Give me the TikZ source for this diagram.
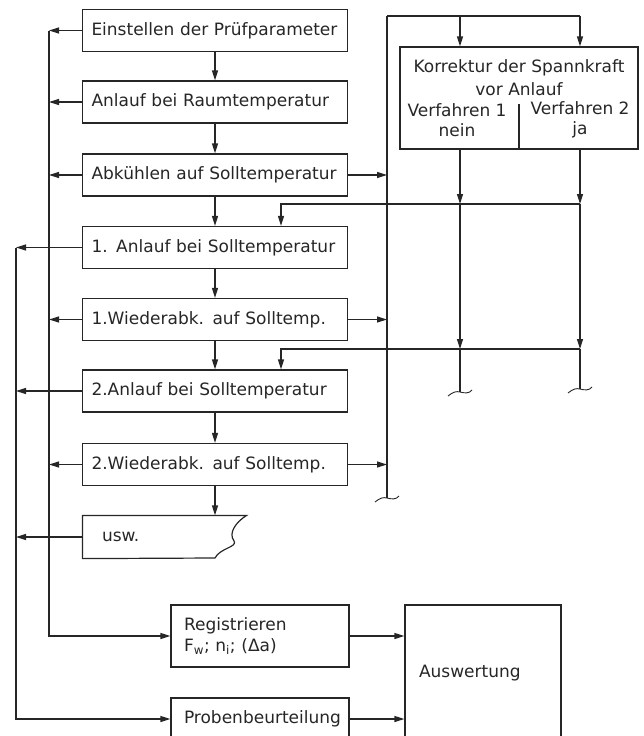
\documentclass[tikz,border=0pt]{standalone}
\usepackage{fontspec}
\setmainfont{DejaVu Sans}
\usetikzlibrary{arrows.meta}

\begin{document}
\begin{tikzpicture}[x=1pt,y=-1pt,line width=1.2pt,color=black!85,
every node/.style={font=\fontsize{17}{20}\selectfont},
schritt/.style={draw,minimum height=42pt,text width=247pt,inner xsep=9pt,inner ysep=0pt,align=left},
pfeil/.style={-{Triangle[length=10pt,width=6pt]}}]
\useasboundingbox (0,0) rectangle (643,736);
\coordinate (bo) at (16,0);
\coordinate (bi) at (49,0);
\coordinate (br) at (387,0);
\coordinate (fbx) at (281,0);
\coordinate (fb1) at (0,204);
\coordinate (fb2) at (0,349);
\coordinate (rtop) at (387,16);
\coordinate (e0) at (387,498);
\coordinate (e1) at (460,392);
\coordinate (e2) at (580,389);

\node[schritt] (einst) at (215,30.5) {Einstellen der Prüfparameter};
\node[schritt] (anlr) at (215,102) {Anlauf bei Raumtemperatur};
\node[schritt] (abk) at (215,175) {Abkühlen auf Solltemperatur};
\node[schritt] (anl1) at (215,247.5) {1. Anlauf bei Solltemperatur};
\node[schritt] (wab1) at (215,319.5) {1.Wiederabk. auf Solltemp.};
\node[schritt] (anl2) at (215,391) {2.Anlauf bei Solltemperatur};
\node[schritt] (wab2) at (215,464.5) {2.Wiederabk. auf Solltemp.};
\node[minimum height=42pt,text width=125pt,inner xsep=19pt,inner ysep=0pt,align=left] (usw) at (164.5,537) {usw.};
\node[draw,minimum height=62pt,text width=152pt,inner xsep=13pt,inner ysep=0pt,align=left] (regist) at (260,636) {Registrieren\\[1pt]F\textsubscript{w}; n\textsubscript{i}; (Δa)};
\node[draw,minimum height=42pt,text width=152pt,inner xsep=13pt,inner ysep=0pt,align=left] (proben) at (260,719) {Probenbeurteilung};
\node[draw,minimum height=136pt,text width=128pt,inner xsep=14pt,inner ysep=0pt,align=left] (ausw) at (483,673) {Auswertung};
\node[draw,minimum width=238pt,minimum height=102pt] (korr) at (519,98) {};
\node[align=center] (ktext) at (519,78) {Korrektur der Spannkraft\\[3pt]vor Anlauf};
\node[align=center] (v1) at (457,120) {Verfahren 1\\nein};
\node[align=center] (v2) at (580,120) {Verfahren 2\\ja};

\draw (usw.north west) -- (usw.north east) .. controls (236,522) and (228,533) .. (234,541) .. controls (238,547) and (220,548) .. (215,558) -- (usw.south west) -- cycle;
\draw (korr.south) -- ++(0,-46);

\foreach \a/\b in {einst/anlr,anlr/abk,abk/anl1,anl1/wab1,wab1/anl2,anl2/wab2}
  \draw[pfeil] (\a.south) -- (\b.north);
\draw[pfeil] (wab2.south) -- (wab2.south |- usw.north);

\foreach \n in {einst,anlr,abk,wab1,wab2}
  \draw[pfeil] (\n.west) -- (\n.west -| bi);
\foreach \n in {anl1,anl2,usw}
  \draw[pfeil] (\n.west) -- (\n.west -| bo);
\draw[pfeil] (einst.west -| bi) |- (regist.west);
\draw[pfeil] (anl1.west -| bo) |- (proben.west);

\foreach \n in {abk,wab1,wab2}
  \draw[pfeil] (\n.east) -- (\n.east -| br);
\draw (rtop) -- (rtop -| e2);
\draw (rtop) -- (e0);
\draw[pfeil] (rtop -| e1) -- (korr.north -| e1);
\draw[pfeil] (rtop -| e2) -- (korr.north -| e2);
\draw[pfeil] (korr.south -| e1) -- (e1 |- fb1);
\draw[pfeil] (e1 |- fb1) -- (e1 |- fb2);
\draw (e1 |- fb2) -- (e1);
\draw[pfeil] (korr.south -| e2) -- (e2 |- fb1);
\draw[pfeil] (e2 |- fb1) -- (e2 |- fb2);
\draw (e2 |- fb2) -- (e2);
\draw[pfeil] (e2 |- fb1) -| (anl1.north -| fbx);
\draw[pfeil] (e2 |- fb2) -| (anl2.north -| fbx);
\foreach \e in {e0,e1,e2}
  \draw[shift={(\e)},line width=0.9pt] (-12,4) .. controls (-7,0) and (-4,-1) .. (0,0) .. controls (4,1) and (9,2) .. (12,-2);

\draw[pfeil] (regist.east) -- (regist.east -| ausw.west);
\draw[pfeil] (proben.east) -- (proben.east -| ausw.west);
\end{tikzpicture}
\end{document}
